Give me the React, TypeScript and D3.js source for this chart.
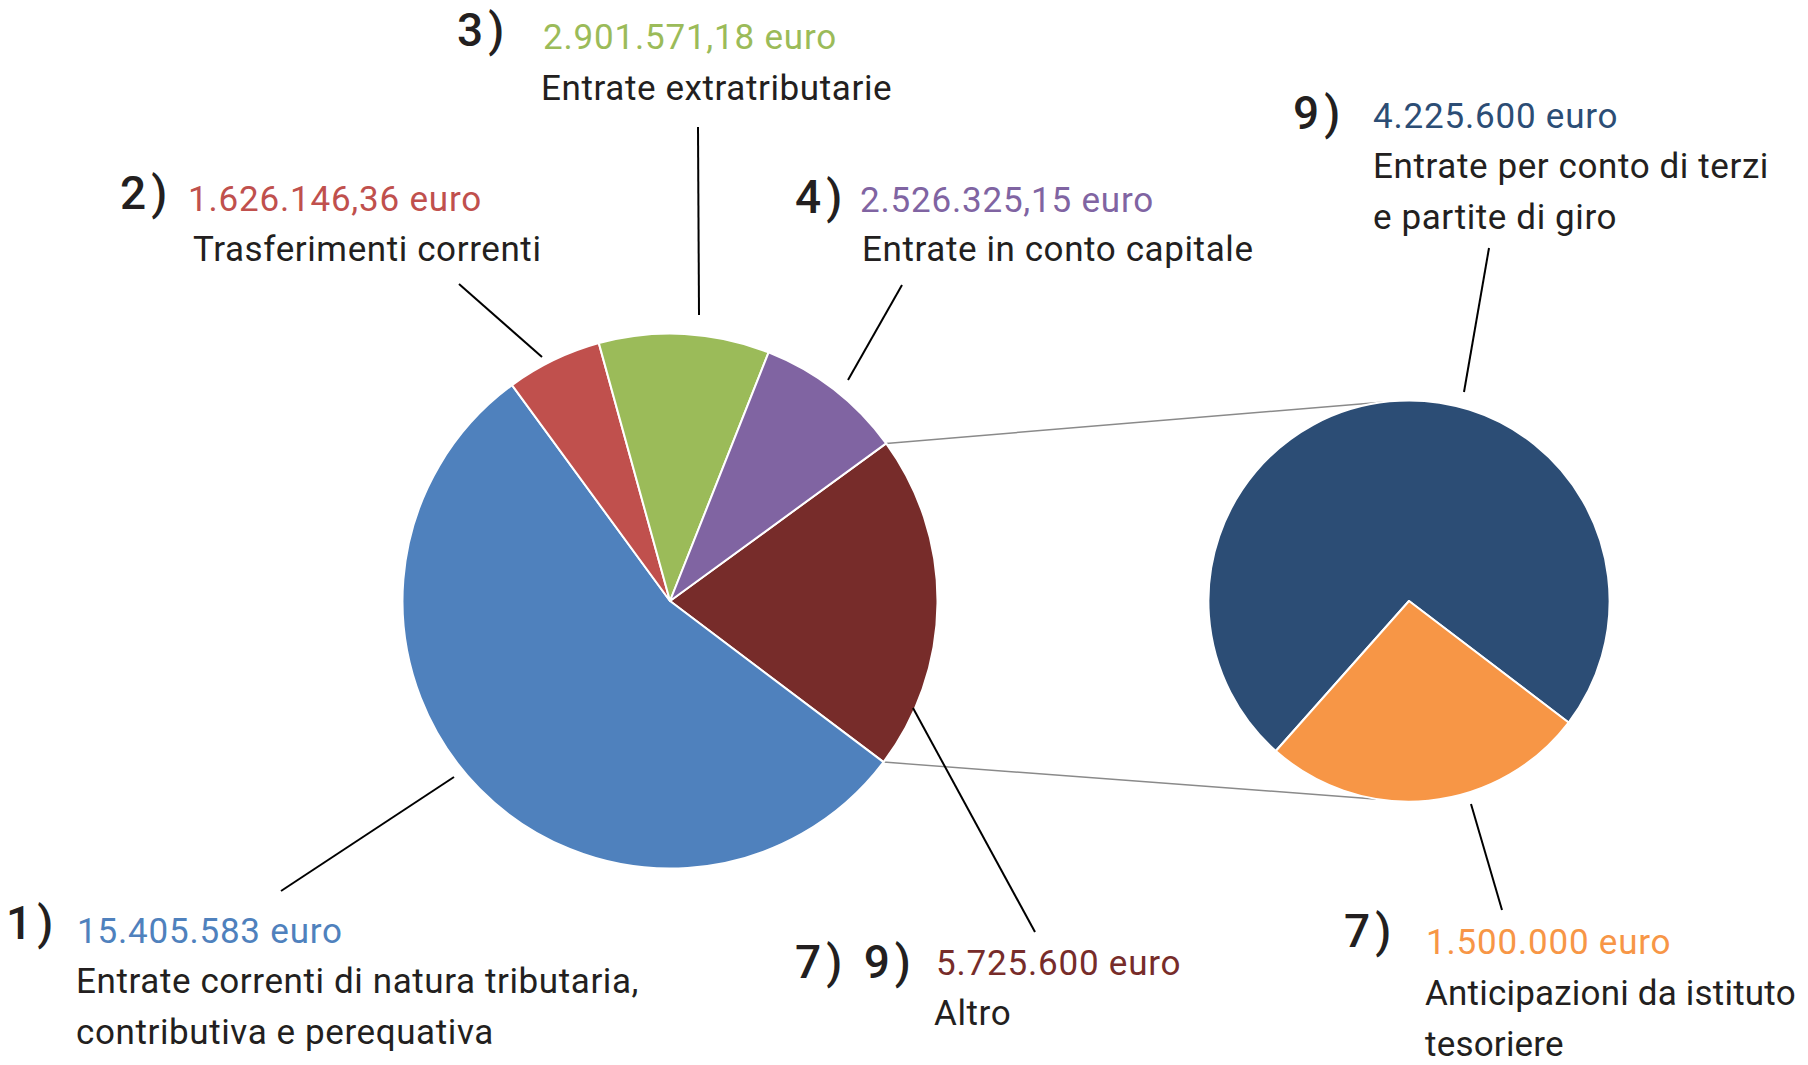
import React from 'react';
import * as d3 from 'd3';

// ---------- DATA ----------
const mainKeys = ['7) 9)', '1)', '2)', '3)', '4)'];
const mainValues = [NaN, 15405583, 1626146.36, 2901571.18, 2526325.15]; // first = "Altro", sum of secondary
const mainValueLabels = ['5.725.600 euro', '15.405.583 euro', '1.626.146,36 euro', '2.901.571,18 euro', '2.526.325,15 euro'];
const mainDescriptions = [
  ['Altro'],
  ['Entrate correnti di natura tributaria,', 'contributiva e perequativa'],
  ['Trasferimenti correnti'],
  ['Entrate extratributarie'],
  ['Entrate in conto capitale'],
];
const mainColors = ['#772C2A', '#4F81BD', '#C0504D', '#9BBB59', '#8064A2'];

const secondaryKeys = ['9)', '7)'];
const secondaryValues = [4225600, 1500000];
const secondaryValueLabels = ['4.225.600 euro', '1.500.000 euro'];
const secondaryDescriptions = [
  ['Entrate per conto di terzi', 'e partite di giro'],
  ['Anticipazioni da istituto', 'tesoriere'],
];
const secondaryColors = ['#2C4D75', '#F79646'];

// ---------- LAYOUT ----------
const W = 1808;
const H = 1065;
const mainCenter = { x: 670, y: 601, r: 267.5, start: 53.9 };
const secCenter = { x: 1409, y: 601, r: 200.6, start: 221.6 };
const connectorAngles = [-7, 189]; // degrees on secondary pie (top, bottom)

type LabelLayout = {
  numX: number; numY: number; valX: number; valY: number; descX: number; descY: number;
  leader: [number, number, number, number]; descSpacing?: number;
};
const mainLabelLayout: LabelLayout[] = [
  { numX: 795, numY: 978, valX: 936, valY: 975, descX: 934, descY: 1025, leader: [913, 708, 1035, 932] },
  { numX: 6, numY: 939, valX: 77, valY: 943, descX: 76, descY: 993, leader: [454, 777, 281, 891] },
  { numX: 120, numY: 209, valX: 188, valY: 211, descX: 193, descY: 261, leader: [542, 357, 459, 284] },
  { numX: 457, numY: 46, valX: 543, valY: 49, descX: 541, descY: 100, leader: [699, 315, 698, 127] },
  { numX: 795, numY: 213, valX: 860, valY: 212, descX: 862, descY: 261, leader: [848, 380, 902, 285] },
];
const secLabelLayout: LabelLayout[] = [
  { numX: 1293, numY: 129, valX: 1373, valY: 128, descX: 1373, descY: 178, leader: [1464, 392, 1489, 248] },
  { numX: 1344, numY: 947, valX: 1426, valY: 954, descX: 1425, descY: 1005, leader: [1471, 804, 1502, 910], descSpacing: 0.2 },
];
const lineStep = 51;
const FONT = "Roboto, 'Noto Sans', sans-serif";
const TEXT_DARK = '#231F20';

const rad = (deg: number) => (deg * Math.PI) / 180;
const polar = (cx: number, cy: number, r: number, a: number) => [cx + r * Math.sin(a), cy - r * Math.cos(a)];

function Label({ lay, num, val, desc, color }: { lay: LabelLayout; num: string; val: string; desc: string[]; color: string }) {
  const [x1, y1, x2, y2] = lay.leader;
  return (
    <g>
      <line x1={x1} y1={y1} x2={x2} y2={y2} stroke="#000" strokeWidth={2} />
      <text x={lay.numX} y={lay.numY} fontFamily={FONT} fontSize={46} fontWeight={500} fill={TEXT_DARK} letterSpacing={5} xmlSpace="preserve">
        {num}
      </text>
      <text x={lay.valX} y={lay.valY} fontFamily={FONT} fontSize={35} fill={color} letterSpacing={0.8}>
        {val}
      </text>
      {desc.map((d, i) => (
        <text key={i} x={lay.descX} y={lay.descY + i * lineStep} fontFamily={FONT} fontSize={35} fill={TEXT_DARK}
          letterSpacing={lay.descSpacing ?? 0.6}>
          {d}
        </text>
      ))}
    </g>
  );
}

export default function App() {
  const altro = d3.sum(secondaryValues);
  const values = mainValues.map((v, i) => (i === 0 ? altro : v));

  const mainPie = d3
    .pie<number>()
    .sort(null)
    .value((d) => d)
    .startAngle(rad(mainCenter.start))
    .endAngle(rad(mainCenter.start) + 2 * Math.PI);
  const mainArcs = mainPie(values);
  const mainArc = d3.arc<d3.PieArcDatum<number>>().innerRadius(0).outerRadius(mainCenter.r);

  const secPie = d3
    .pie<number>()
    .sort(null)
    .value((d) => d)
    .startAngle(rad(secCenter.start))
    .endAngle(rad(secCenter.start) + 2 * Math.PI);
  const secArcs = secPie(secondaryValues);
  const secArc = d3.arc<d3.PieArcDatum<number>>().innerRadius(0).outerRadius(secCenter.r);

  // connector lines from the "Altro" slice edges to the secondary pie
  const altroArc = mainArcs[0];
  const pA = polar(mainCenter.x, mainCenter.y, mainCenter.r, altroArc.startAngle);
  const pB = polar(mainCenter.x, mainCenter.y, mainCenter.r, altroArc.endAngle);
  const qA = polar(secCenter.x, secCenter.y, secCenter.r, rad(connectorAngles[0]));
  const qB = polar(secCenter.x, secCenter.y, secCenter.r, rad(connectorAngles[1]));

  return (
    <svg width={W} height={H} style={{ position: 'absolute', left: 0, top: 0, background: '#fff' }}>
      <rect width={W} height={H} fill="#fff" />
      <line x1={pA[0]} y1={pA[1]} x2={qA[0]} y2={qA[1]} stroke="#8A8A8A" strokeWidth={1.5} />
      <line x1={pB[0]} y1={pB[1]} x2={qB[0]} y2={qB[1]} stroke="#8A8A8A" strokeWidth={1.5} />
      <g transform={`translate(${mainCenter.x},${mainCenter.y})`}>
        {mainArcs.map((a, i) => (
          <path key={i} d={mainArc(a) || ''} fill={mainColors[i]} stroke="#fff" strokeWidth={2} strokeLinejoin="round" />
        ))}
      </g>
      <g transform={`translate(${secCenter.x},${secCenter.y})`}>
        {secArcs.map((a, i) => (
          <path key={i} d={secArc(a) || ''} fill={secondaryColors[i]} stroke="#fff" strokeWidth={2} strokeLinejoin="round" />
        ))}
      </g>
      {mainKeys.map((k, i) => (
        <Label key={k} lay={mainLabelLayout[i]} num={k} val={mainValueLabels[i]} desc={mainDescriptions[i]} color={mainColors[i]} />
      ))}
      {secondaryKeys.map((k, i) => (
        <Label key={k} lay={secLabelLayout[i]} num={k} val={secondaryValueLabels[i]} desc={secondaryDescriptions[i]} color={secondaryColors[i]} />
      ))}
    </svg>
  );
}
